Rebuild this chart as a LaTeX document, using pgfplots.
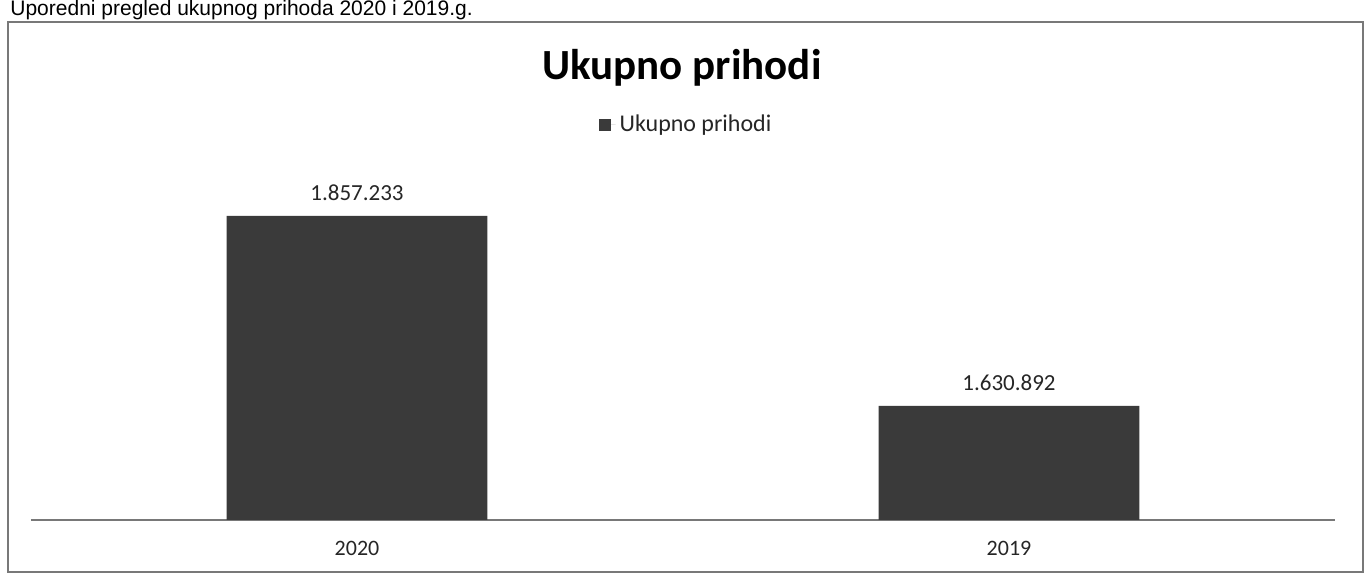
\documentclass[border=0pt]{standalone}
\usepackage{pgfplots}
\pgfplotsset{compat=1.18}
\usepackage{fontspec}
\setmainfont{Carlito}
\newfontfamily\arialfont{Liberation Sans}
\definecolor{barcol}{RGB}{58,58,58}
\definecolor{framecol}{RGB}{120,120,120}
\begin{document}
\begin{tikzpicture}
\useasboundingbox (0,0) rectangle (683.5pt,288pt);
\clip (0,0) rectangle (683.5pt,288pt);
\fill[white] (0,0) rectangle (683.5pt,288pt);
% caption above the chart frame
\node[anchor=base west, inner sep=0pt, font=\arialfont\fontsize{10.5}{12}\selectfont] at (5pt,280pt) {Uporedni pregled ukupnog prihoda 2020 i 2019.g.};
% chart frame
\draw[framecol, line width=0.6pt] (4pt,277pt) rectangle (681.5pt,2pt);
% title
\node[anchor=base, inner sep=0pt, font=\bfseries\fontsize{21.5}{25}\selectfont] at (341pt,248pt) {Ukupno prihodi};
\begin{axis}[
  scale only axis,
  at={(15.5pt,28pt)}, anchor=south west,
  width=652pt, height=170pt,
  xmin=-0.5, xmax=1.5,
  ymin=1495000, ymax=1900000,
  hide y axis,
  axis x line=bottom,
  x axis line style={-, draw=framecol, line width=0.8pt},
  xtick=data,
  xticklabels={2020,2019},
  major tick length=0pt,
  xticklabel style={anchor=center, yshift=-14pt, font=\fontsize{11}{13}\selectfont, text=black!85},
  legend style={at={(0.5,1)}, anchor=center, xshift=2pt, yshift=27.5pt, draw=none, fill=none,
    font=\fontsize{12}{14}\selectfont, text=black!85, inner sep=0pt},
  legend image code/.code={\fill[barcol] (0pt,-3pt) rectangle (6pt,3pt); \path (6pt,0pt) -- (8.5pt,0pt);},
  legend cell align=left,
  clip=false,
]
\addplot[ybar, bar width=0.4, fill=barcol, draw=none,
  nodes near coords, point meta=explicit symbolic,
  every node near coord/.append style={anchor=center, yshift=11.5pt, font=\fontsize{11.5}{13}\selectfont, text=black!85}]
  coordinates {(0,1857233) [1.857.233] (1,1630892) [1.630.892]};
\addlegendentry{Ukupno prihodi}
\end{axis}
\end{tikzpicture}
\end{document}
